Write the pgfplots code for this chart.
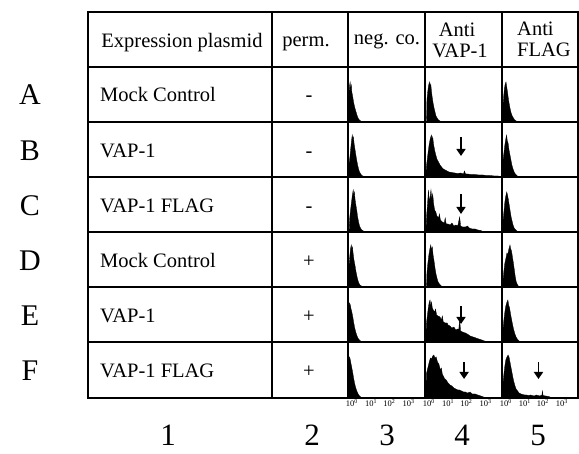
\documentclass[border=0pt]{standalone}
\usepackage{fontspec}
\setmainfont{Liberation Serif}
\usepackage{pgfplots}
\pgfplotsset{compat=1.18}
\usetikzlibrary{arrows.meta}

% one cell of the flow cytometry panel, x in decades, y in pixels
\pgfplotsset{
  cell/.style={
    scale only axis, width=77pt, height=55pt,
    xmin=0, xmax=4, ymin=0, ymax=55,
    axis line style={draw=none}, tick style={draw=none},
    xtick=\empty, ytick=\empty,
    anchor=south west, clip=false,
  },
  bottomcell/.style={
    xtick={0.2,1.2,2.15,3.15},
    xticklabels={10\textsuperscript{0},10\textsuperscript{1},10\textsuperscript{2},10\textsuperscript{3}},
    major tick length=0pt,
    xticklabel style={font=\fontsize{8.5}{8.5}\selectfont, inner sep=1.5pt},
  },
  hist/.style={fill=black, draw=black, line width=0.3pt, mark=none},
}
\tikzset{arr/.style={line width=1.7pt, -{Triangle[width=9pt,length=7pt]}}}

\begin{document}
\begin{tikzpicture}
\useasboundingbox (0pt,0pt) rectangle (579pt,-454pt);

% ---- column 3: neg. co.
\begin{axis}[cell, at={(348pt,-122pt)}]
\addplot[hist] coordinates {(0.03,0) (0.05,28) (0.08,36) (0.11,40) (0.14,33) (0.17,37) (0.2,30) (0.24,26) (0.28,21) (0.32,17) (0.36,14) (0.4,11) (0.45,8) (0.5,5) (0.55,3) (0.62,1.5) (0.72,0.5) (0.8,0)} \closedcycle;
\end{axis}
\begin{axis}[cell, at={(348pt,-177pt)}]
\addplot[hist] coordinates {(0.05,0) (0.06,14) (0.1,20) (0.14,28) (0.18,36) (0.22,42) (0.25,38) (0.28,40) (0.32,33) (0.36,28) (0.4,23) (0.45,17) (0.5,12) (0.55,8) (0.6,5) (0.66,3) (0.72,1.5) (0.8,0.8) (0.9,0)} \closedcycle;
\end{axis}
\begin{axis}[cell, at={(348pt,-232pt)}]
\addplot[hist] coordinates {(0.06,0) (0.08,12) (0.12,20) (0.17,28) (0.22,36) (0.27,42) (0.3,37) (0.33,40) (0.37,32) (0.41,27) (0.46,21) (0.5,15) (0.55,10) (0.6,6) (0.66,3.5) (0.72,2) (0.8,1) (0.9,0)} \closedcycle;
\end{axis}
\begin{axis}[cell, at={(348pt,-287pt)}]
\addplot[hist] coordinates {(0.03,0) (0.05,20) (0.09,30) (0.13,38) (0.17,42) (0.2,38) (0.23,40) (0.27,33) (0.31,27) (0.36,22) (0.41,16) (0.46,11) (0.51,7) (0.56,4) (0.62,2) (0.7,1) (0.8,0)} \closedcycle;
\end{axis}
\begin{axis}[cell, at={(348pt,-342pt)}]
\addplot[hist] coordinates {(0.03,0) (0.05,36) (0.08,39) (0.12,37) (0.16,33) (0.2,30) (0.25,25) (0.3,19) (0.35,14) (0.4,10) (0.45,7) (0.5,4.5) (0.55,3) (0.62,1.5) (0.7,0.5) (0.75,0)} \closedcycle;
\end{axis}
\begin{axis}[cell, bottomcell, at={(348pt,-398pt)}]
\addplot[hist] coordinates {(0.03,0) (0.05,38) (0.08,41) (0.11,39) (0.15,35) (0.19,31) (0.24,26) (0.29,20) (0.34,15) (0.39,11) (0.44,8) (0.5,5) (0.56,3) (0.63,1.5) (0.7,0.5) (0.75,0)} \closedcycle;
\end{axis}

% ---- column 4: anti VAP-1
\begin{axis}[cell, at={(425pt,-122pt)}]
\addplot[hist] coordinates {(0.08,0) (0.1,22) (0.14,30) (0.18,36) (0.23,40) (0.27,35) (0.3,38) (0.34,30) (0.38,24) (0.42,19) (0.47,14) (0.52,10) (0.57,6) (0.63,4) (0.7,2) (0.78,1) (0.9,0)} \closedcycle;
\end{axis}
\begin{axis}[cell, at={(425pt,-177pt)}]
\addplot[hist] coordinates {(0.05,0) (0.07,10) (0.12,18) (0.17,26) (0.22,33) (0.27,38) (0.33,42) (0.37,37) (0.4,40) (0.45,32) (0.5,27) (0.56,22) (0.62,18) (0.7,15) (0.78,12) (0.86,10) (0.95,8) (1.05,7) (1.15,6) (1.25,5) (1.4,4.5) (1.55,4) (1.7,3.5) (1.85,4) (2.0,3) (2.05,6) (2.1,3) (2.2,3) (2.4,2.5) (2.6,2.5) (2.8,2) (3.0,2) (3.2,1.5) (3.4,1.5) (3.6,1) (3.8,1) (3.95,0)} \closedcycle;
\draw[arr] (axis cs:1.87,40) -- (axis cs:1.87,21);
\end{axis}
\begin{axis}[cell, at={(425pt,-232pt)}]
\addplot[hist] coordinates {(0.05,0) (0.08,15) (0.13,28) (0.18,42) (0.22,30) (0.27,36) (0.31,42) (0.35,33) (0.4,38) (0.45,28) (0.5,22) (0.56,20) (0.62,16) (0.7,14) (0.75,18) (0.8,12) (0.9,10) (1.0,9) (1.05,14) (1.1,8) (1.2,8) (1.3,7) (1.4,9) (1.5,6) (1.6,7) (1.7,6) (1.8,15) (1.85,6) (1.95,5) (2.1,5) (2.2,6) (2.3,4) (2.45,3) (2.6,3) (2.75,2) (2.9,1.5) (3.05,0)} \closedcycle;
\draw[arr] (axis cs:1.87,38) -- (axis cs:1.87,18);
\end{axis}
\begin{axis}[cell, at={(425pt,-287pt)}]
\addplot[hist] coordinates {(0.08,0) (0.1,14) (0.15,24) (0.2,32) (0.25,38) (0.3,42) (0.34,37) (0.38,40) (0.42,32) (0.47,26) (0.52,19) (0.57,13) (0.62,9) (0.68,5) (0.75,3) (0.82,1.5) (0.92,0)} \closedcycle;
\end{axis}
\begin{axis}[cell, at={(425pt,-342pt)}]
\addplot[hist] coordinates {(0.05,0) (0.07,18) (0.12,26) (0.17,34) (0.22,40) (0.26,42) (0.3,36) (0.34,40) (0.38,34) (0.43,32) (0.5,30) (0.55,33) (0.6,27) (0.68,26) (0.78,25) (0.85,22) (0.9,26) (0.95,20) (1.05,19) (1.15,19) (1.2,17) (1.3,16) (1.4,14) (1.5,15) (1.6,12) (1.7,13) (1.75,12) (1.8,22) (1.85,11) (1.95,10) (2.1,9) (2.2,8) (2.35,6) (2.5,5) (2.65,4) (2.8,3) (2.95,2) (3.1,1) (3.25,0)} \closedcycle;
\draw[arr] (axis cs:1.87,36) -- (axis cs:1.87,18);
\end{axis}
\begin{axis}[cell, bottomcell, at={(425pt,-398pt)}]
\addplot[hist] coordinates {(0.05,0) (0.07,24) (0.12,28) (0.17,32) (0.22,36) (0.28,40) (0.34,39) (0.4,42) (0.46,43) (0.52,40) (0.58,41) (0.65,36) (0.72,34) (0.8,28) (0.85,30) (0.9,24) (1.0,20) (1.1,18) (1.2,15) (1.3,13) (1.4,12) (1.5,10) (1.6,9) (1.7,8) (1.8,8) (1.9,7) (2.0,6) (2.1,6) (2.2,5) (2.35,6) (2.45,4) (2.6,4) (2.75,3) (2.9,2) (3.05,1) (3.2,0)} \closedcycle;
\draw[arr] (axis cs:2.03,36) -- (axis cs:2.03,19);
\end{axis}

% ---- column 5: anti FLAG
\begin{axis}[cell, width=76pt, at={(502pt,-122pt)}]
\addplot[hist] coordinates {(0.03,0) (0.05,16) (0.09,26) (0.13,34) (0.17,38) (0.21,40) (0.25,35) (0.29,30) (0.33,24) (0.38,18) (0.43,13) (0.48,9) (0.54,6) (0.6,4) (0.67,2) (0.75,1) (0.85,0)} \closedcycle;
\end{axis}
\begin{axis}[cell, width=76pt, at={(502pt,-177pt)}]
\addplot[hist] coordinates {(0.03,0) (0.05,16) (0.1,24) (0.15,32) (0.2,38) (0.24,42) (0.28,36) (0.32,34) (0.37,27) (0.42,22) (0.47,17) (0.52,12) (0.58,8) (0.64,5) (0.7,3) (0.78,1.5) (0.88,0)} \closedcycle;
\end{axis}
\begin{axis}[cell, width=76pt, at={(502pt,-232pt)}]
\addplot[hist] coordinates {(0.03,0) (0.05,10) (0.1,20) (0.15,30) (0.2,36) (0.25,40) (0.29,37) (0.33,33) (0.38,27) (0.43,21) (0.48,15) (0.53,11) (0.58,7) (0.64,4) (0.7,2.5) (0.78,1) (0.88,0)} \closedcycle;
\end{axis}
\begin{axis}[cell, width=76pt, at={(502pt,-287pt)}]
\addplot[hist] coordinates {(0.03,0) (0.05,6) (0.1,16) (0.15,24) (0.2,28) (0.26,34) (0.3,32) (0.36,38) (0.42,42) (0.46,38) (0.5,36) (0.55,30) (0.6,24) (0.65,17) (0.7,10) (0.75,5) (0.82,2) (0.9,0)} \closedcycle;
\end{axis}
\begin{axis}[cell, width=76pt, at={(502pt,-342pt)}]
\addplot[hist] coordinates {(0.03,0) (0.05,12) (0.1,22) (0.15,30) (0.2,36) (0.26,40) (0.31,42) (0.35,37) (0.4,34) (0.45,28) (0.5,23) (0.56,17) (0.62,12) (0.68,8) (0.74,5) (0.82,2.5) (0.9,1) (0.98,0)} \closedcycle;
\end{axis}
\begin{axis}[cell, bottomcell, width=76pt, at={(502pt,-398pt)}]
\addplot[hist] coordinates {(0.03,0) (0.05,14) (0.1,24) (0.15,32) (0.2,38) (0.26,41) (0.32,43) (0.37,41) (0.42,36) (0.48,30) (0.54,24) (0.6,18) (0.67,13) (0.74,9) (0.82,7) (0.9,5) (1.0,4) (1.1,3.5) (1.2,3) (1.3,3) (1.4,2.5) (1.5,3) (1.6,2.5) (1.7,2) (1.8,3) (1.9,2.5) (2.0,2) (2.1,3) (2.13,7) (2.16,2.5) (2.3,2) (2.45,1.5) (2.6,0.5) (2.7,0)} \closedcycle;
\draw[arr] (axis cs:1.92,36) -- (axis cs:1.92,19);
\end{axis}

% ---- table grid and text
\begin{scope}[x=1pt, y=-1pt, font=\fontsize{20.5}{22}\selectfont]
\draw[line width=1.3pt] (88,12) rectangle (578,398);
\foreach \xx in {272,348,425,502} \draw[line width=1.3pt] (\xx,12) -- (\xx,398);
\foreach \yy in {67,122,177,232,287,342} \draw[line width=1.3pt] (88,\yy) -- (578,\yy);

\node[anchor=base] at (182,48) {Expression plasmid};
\node[anchor=base] at (306,47) {perm.};
\node[anchor=base] at (387,45) {neg. co.};
\node[anchor=base] at (457,37) {Anti};
\node[anchor=base] at (460,58) {VAP-1};
\node[anchor=base west, inner sep=0pt] at (517,36) {Anti};
\node[anchor=base west, inner sep=0pt] at (517,57) {FLAG};

\foreach \lab/\yy/\pm in {A/102/-, B/158/-, C/213/-, D/268/+, E/323/+, F/378/+} {
  \node[anchor=base, font=\fontsize{30}{30}\selectfont] at (30,\yy+3) {\lab};
  \node[anchor=base, inner sep=0pt] at (309,\yy) {\pm};
}
\node[anchor=base west, inner sep=0pt] at (100,102) {Mock Control};
\node[anchor=base west, inner sep=0pt] at (100,158) {VAP-1};
\node[anchor=base west, inner sep=0pt] at (100,213) {VAP-1 FLAG};
\node[anchor=base west, inner sep=0pt] at (100,268) {Mock Control};
\node[anchor=base west, inner sep=0pt] at (100,323) {VAP-1};
\node[anchor=base west, inner sep=0pt] at (100,378) {VAP-1 FLAG};

\foreach \num/\xx in {1/168, 2/312, 3/387, 4/462, 5/538}
  \node[anchor=base, font=\fontsize{31}{31}\selectfont] at (\xx,446) {\num};
\end{scope}
\end{tikzpicture}
\end{document}
